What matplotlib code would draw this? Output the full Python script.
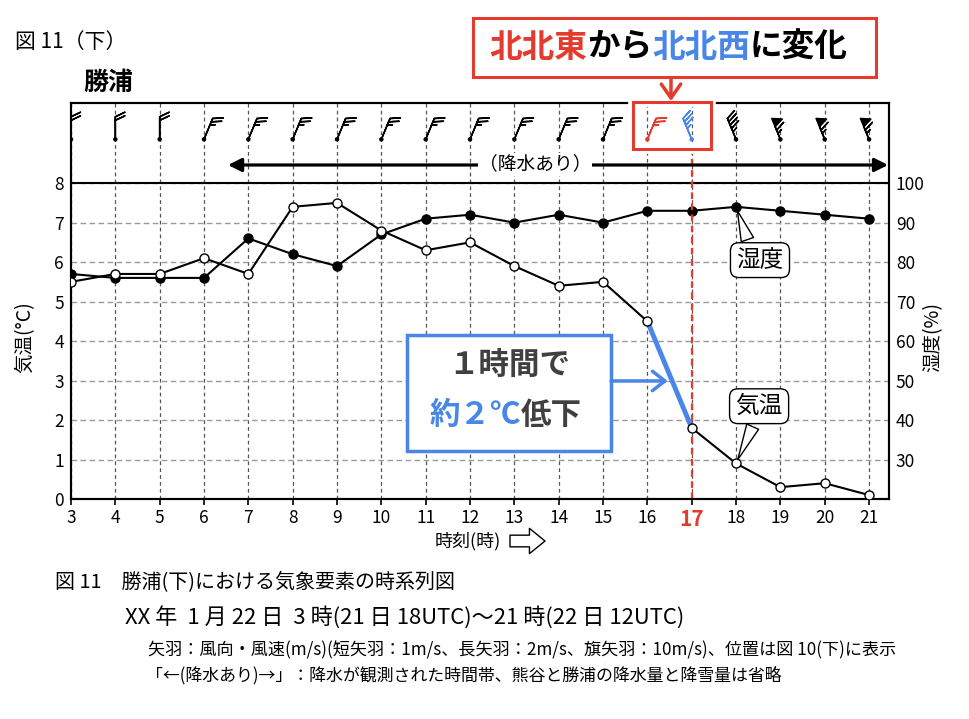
import numpy as np
import matplotlib
matplotlib.use('Agg')
import matplotlib.pyplot as plt
from matplotlib.patches import Rectangle
from matplotlib.text import Annotation
import matplotlib.patheffects as pe

plt.rcParams['font.family'] = ['Noto Sans CJK JP', 'DejaVu Sans']

# ---------------- data ----------------
hours = [3, 4, 5, 6, 7, 8, 9, 10, 11, 12, 13, 14, 15, 16, 17, 18, 19, 20, 21]
temperature = [5.5, 5.7, 5.7, 6.1, 5.7, 7.4, 7.5, 6.8, 6.3, 6.5, 5.9, 5.4, 5.5,
               4.5, 1.8, 0.9, 0.3, 0.4, 0.1]
humidity = [77, 76, 76, 76, 86, 82, 79, 87, 91, 92, 90, 92, 90,
            93, 93, 94, 93, 92, 91]
# wind direction (deg, from) and speed (m/s)
wind_dir = [0, 0, 0] + [22.5] * 11 + [337.5] * 5
wind_speed = [4, 4, 4] + [5] * 11 + [7, 9, 13, 13, 13]
barb_colors = ['black'] * 13 + ['#e33b2e', '#4a86e8'] + ['black'] * 4
temp_ticks = [0, 1, 2, 3, 4, 5, 6, 7, 8]
hum_ticks = [30, 40, 50, 60, 70, 80, 90, 100]

RED = '#e33b2e'
BLUE = '#4a86e8'
DARK = '#404040'

W, H = 969, 719
fig = plt.figure(figsize=(W / 100, H / 100), dpi=100)

def fx(x):
    return x / W

def fy(y):
    return 1 - y / H

# axes frame: left 71, right 889, top 103, bottom 499 (px)
ax = fig.add_axes([fx(71), fy(499), (889 - 71) / W, (499 - 103) / H])
axh = ax.twinx()
ax.set_zorder(axh.get_zorder() + 1)
ax.patch.set_visible(False)
axh.patch.set_visible(True)
axh.patch.set_facecolor('white')

XMAX = 21.45
YMAX = 10.03
ax.set_xlim(3, XMAX)
ax.set_ylim(0, YMAX)
axh.set_ylim(20, 20 + 10 * YMAX)

# grid on the lower (humidity) axes
axh.xaxis.set_visible(True)
axh.tick_params(axis='x', which='both', bottom=False, top=False,
                labelbottom=False, labeltop=False)
axh.set_xticks(hours)
axh.set_yticks(hum_ticks)
axh.grid(axis='x', color='#555555', lw=0.9, linestyle=(0, (3, 2.5)))
axh.grid(axis='y', color='#9a9a9a', lw=1.0, linestyle=(0, (4, 2.5)))
axh.tick_params(axis='y', length=0, pad=5, labelsize=12.5)

for a in (ax, axh):
    for s in a.spines.values():
        s.set_linewidth(1.5)
        s.set_color('black')

# ticks
ax.set_yticks(temp_ticks)
ax.tick_params(axis='y', length=0, pad=5, labelsize=12.5)
ax.set_xticks(hours, labels=[str(h) for h in hours])
ax.tick_params(axis='x', direction='out', length=4.5, width=1.2, pad=3, labelsize=12.5)
for lbl in ax.get_xticklabels():
    if lbl.get_text() == '17':
        lbl.set_color(RED)
        lbl.set_fontweight('bold')
        lbl.set_fontsize(15)

ax.axhline(8, color='black', lw=1.5, zorder=1)

# humidity
axh.plot(hours, humidity, color='black', lw=1.5, marker='o', ms=6.5,
         mfc='black', mec='black', zorder=3)

# temperature
ax.plot(hours, temperature, color='black', lw=1.5, zorder=3)
ax.plot(hours[13:15], temperature[13:15], color=BLUE, lw=3.5, zorder=4,
        solid_capstyle='butt')
ax.plot(hours, temperature, ls='none', marker='o', ms=6.5, mfc='white',
        mec='black', mew=1.0, zorder=5)

# red dashed line at 17
ax.axvline(17, ymin=0, ymax=8.76 / YMAX, color=RED, lw=1.6,
           linestyle=(0, (3, 2)), zorder=2)

# wind barbs
BARB_Y = 9.11
d = np.deg2rad(np.array(wind_dir))
s = np.array(wind_speed, dtype=float)
u = -s * np.sin(d)
v = -s * np.cos(d)
ax.barbs(hours, [BARB_Y] * len(hours), u, v, length=5.7,
         barb_increments=dict(half=1, full=2, flag=10),
         sizes=dict(spacing=0.16, height=0.42, width=0.4),
         barbcolor=barb_colors, flagcolor=barb_colors, linewidth=1.1,
         zorder=6, clip_on=False)
ax.scatter(hours, [BARB_Y] * len(hours), s=5, c=barb_colors, zorder=6)

# red box around barbs 16-17
box = Rectangle((fx(633), fy(149)), (711 - 633) / W, (149 - 102) / H,
                transform=fig.transFigure, fill=False, ec=RED, lw=2.2,
                zorder=7)
box.set_path_effects([pe.Stroke(linewidth=7, foreground='white'), pe.Normal()])
fig.add_artist(box)

# precipitation arrow
ax.annotate('', xy=(6.54, 8.46), xytext=(21.43, 8.46),
            arrowprops=dict(arrowstyle='<|-|>', lw=2.3, color='black',
                            mutation_scale=20, shrinkA=0, shrinkB=0),
            annotation_clip=False, zorder=6)
ax.text(13.47, 8.48, '（降水あり）', ha='center', va='center', fontsize=13.5,
        zorder=7, bbox=dict(boxstyle='square,pad=0.05', fc='white', ec='none'))

# top red message box
topbox = Rectangle((fx(473), fy(77)), (876 - 473) / W, (77 - 18) / H,
                   transform=fig.transFigure, fill=True, fc='white', ec=RED,
                   lw=2.2, zorder=7)
fig.add_artist(topbox)
parts = [('北北東', RED), ('から', 'black'), ('北北西', BLUE), ('に変化', 'black')]
prev = fig.text(fx(489), fy(47), parts[0][0], color=parts[0][1], fontsize=23.5,
                fontweight='bold', ha='left', va='center', zorder=8)
for txt, col in parts[1:]:
    a = Annotation(txt, xy=(1, 0), xycoords=prev, xytext=(0, 0),
                   textcoords='offset points', color=col, fontsize=23.5,
                   fontweight='bold', ha='left', va='bottom',
                   annotation_clip=False)
    a.set_zorder(8)
    fig.add_artist(a)
    prev = a
arr = Annotation('', xy=(671, H - 101), xycoords='figure pixels',
                 xytext=(671, H - 78), textcoords='figure pixels',
                 arrowprops=dict(arrowstyle='->,head_length=0.5,head_width=0.35',
                                 color=RED, lw=2.5, mutation_scale=20,
                                 shrinkA=0, shrinkB=0),
                 annotation_clip=False)
arr.set_zorder(8)
fig.add_artist(arr)

# blue explanation box
bbox_rect = Rectangle((10.58, 1.215), 15.18 - 10.58, 4.15 - 1.215, fill=True,
                      fc='white', ec=BLUE, lw=2.5, zorder=7)
ax.add_patch(bbox_rect)
ax.text(12.88, 3.37, '１時間で', ha='center', va='center', fontsize=22,
        fontweight='bold', color=DARK, zorder=8)
t1 = ax.text(11.08, 2.13, '約２℃', ha='left', va='center', fontsize=22,
             fontweight='bold', color=BLUE, zorder=8)
ax.annotate('低下', xy=(1, 0), xycoords=t1, xytext=(0, 0),
            textcoords='offset points', ha='left', va='bottom', fontsize=22,
            fontweight='bold', color=DARK, zorder=8)
ax.annotate('', xy=(16.46, 2.99), xytext=(15.18, 2.99),
            arrowprops=dict(arrowstyle='->,head_length=0.45,head_width=0.35',
                            color=BLUE, lw=2.5, mutation_scale=20,
                            shrinkA=0, shrinkB=0), zorder=8)

# callouts
callout_box = dict(boxstyle='round,pad=0.25,rounding_size=0.35', fc='white',
                   ec='black', lw=1.0)
ax.annotate('湿度', xy=(hours[15], humidity[15]), xycoords=axh.transData,
            xytext=(18.54, 6.05), textcoords='data', ha='center', va='center',
            fontsize=17, bbox=callout_box, zorder=8,
            arrowprops=dict(arrowstyle='wedge,tail_width=0.55,shrink_factor=0.5',
                            fc='white', ec='black', lw=1.0, shrinkB=3,
                            relpos=(0.3, 1.0)))
ax.annotate('気温', xy=(hours[15], temperature[15]), xycoords='data',
            xytext=(18.52, 2.35), textcoords='data', ha='center', va='center',
            fontsize=17, bbox=callout_box, zorder=8,
            arrowprops=dict(arrowstyle='wedge,tail_width=0.55,shrink_factor=0.5',
                            fc='white', ec='black', lw=1.0, shrinkB=3,
                            relpos=(0.45, 0.0)))

# axis labels
ax.set_ylabel('気温(°C)', fontsize=14, rotation=90)
ax.yaxis.set_label_coords((35 - 71) / 818, (499 - 337) / 396)
axh.set_ylabel('湿度(%)', fontsize=14, rotation=90, va='center')
axh.yaxis.set_label_coords((933 - 71) / 818, (499 - 337) / 396)

fig.text(fx(468), fy(541), '時刻(時)', ha='center', va='center', fontsize=13)
ax.annotate('', xy=(545, H - 541), xycoords='figure pixels',
            xytext=(510, H - 541), textcoords='figure pixels',
            arrowprops=dict(arrowstyle='simple,head_length=0.8,head_width=1.3,tail_width=0.6',
                            fc='white', ec='black', lw=1.0, mutation_scale=14,
                            shrinkA=0, shrinkB=0),
            annotation_clip=False)

# titles
fig.text(fx(15), fy(42), '図 11（下）', fontsize=15, ha='left', va='center')
fig.text(fx(83), fy(83), '勝浦', fontsize=18, fontweight='bold', ha='left', va='center')

# caption
fig.text(fx(55), fy(583), '図 11　勝浦(下)における気象要素の時系列図', fontsize=14.4,
         ha='left', va='center')
fig.text(fx(125), fy(617), 'XX 年  1 月 22 日  3 時(21 日 18UTC)～21 時(22 日 12UTC)',
         fontsize=15.9, ha='left', va='center')
fig.text(fx(148), fy(650),
         '矢羽：風向・風速(m/s)(短矢羽：1m/s、長矢羽：2m/s、旗矢羽：10m/s)、位置は図 10(下)に表示',
         fontsize=12.3, ha='left', va='center')
fig.text(fx(146), fy(675),
         '「←(降水あり)→」：降水が観測された時間帯、熊谷と勝浦の降水量と降雪量は省略',
         fontsize=12.2, ha='left', va='center')

fig.savefig('out.png', dpi=100)
